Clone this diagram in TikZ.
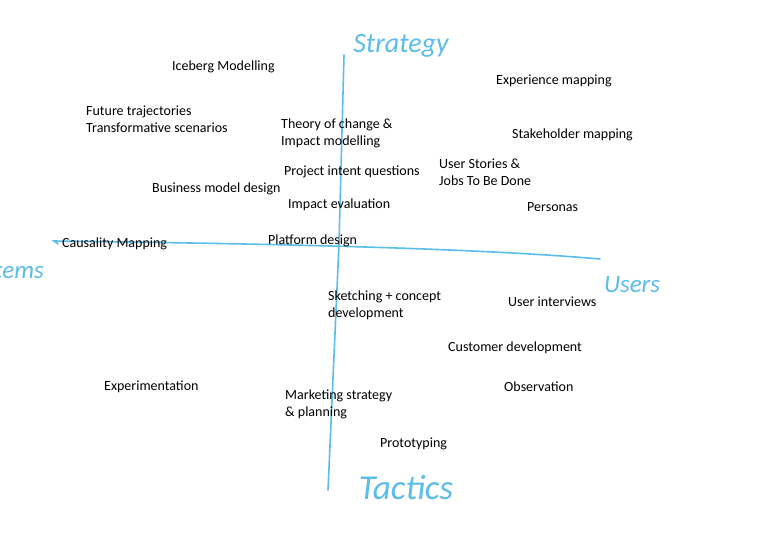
\documentclass[tikz,border=0pt]{standalone}
\usepackage{fontspec}
\setmainfont{Carlito}
\usepackage{tikz}
\usetikzlibrary{positioning, calc}
\definecolor{penblue}{RGB}{92,188,234}

\begin{document}
\begin{tikzpicture}[x=1pt, y=-1pt,
    method/.style = {anchor=west, align=left, inner sep=0pt, font=\fontsize{14}{17}\selectfont},
    handlabel/.style = {text=penblue, inner sep=0pt, font=\fontsize{28}{28}\selectfont\itshape},
    axis/.style = {draw=penblue, line width=1.6pt, line cap=round}
]
\useasboundingbox[fill=white] (0,0) rectangle (768,553);

% axis ends
\coordinate (top) at (344,55);
\coordinate (mid) at (339,244);
\coordinate (bottom) at (328,490);
\coordinate (left) at (54,241);
\coordinate (right) at (600,259);

\draw [axis] (top) -- (mid) -- (bottom);
\draw [axis] (left) ++(4,3) -- (left) .. controls (200,243) and (450,246) .. (right);

% quadrant labels
\node (strategy) [handlabel] at (401,46) {Strategy};
\node (users) [handlabel, font=\fontsize{25}{25}\selectfont\itshape] at (632,285) {Users};
\node (tactics) [handlabel, font=\fontsize{35}{35}\selectfont\itshape] at (406,488) {Tactics};
\node (systems) [handlabel, font=\fontsize{25}{25}\selectfont\itshape, anchor=east] at (44,272) {Systems};

% methods
\node (iceberg) [method] at (172,67) {Iceberg Modelling};
\node (future) [method] at (86,119) {Future trajectories\\Transformative scenarios};
\node (theory) [method] at (281,133) {Theory of change \&\\Impact modelling};
\node (experience) [method] at (496,81) {Experience mapping};
\node (stakeholder) [method] at (512,135) {Stakeholder mapping};
\node (intent) [method] at (284,172) {Project intent questions};
\node (stories) [method] at (439,172) {User Stories \&\\Jobs To Be Done};
\node (business) [method] at (152,189) {Business model design};
\node (evaluation) [method] at (288,205) {Impact evaluation};
\node (personas) [method] at (527,207) {Personas};
\node (causality) [method] at (62,244) {Causality Mapping};
\node (platform) [method] at (268,241) {Platform design};
\node (sketching) [method] at (328,305) {Sketching + concept\\development};
\node (interviews) [method] at (508,302) {User interviews};
\node (customer) [method] at (448,348) {Customer development};
\node (experiment) [method] at (104,387) {Experimentation};
\node (observation) [method] at (504,387) {Observation};
\node (marketing) [method] at (285,404) {Marketing strategy\\\& planning};
\node (prototyping) [method] at (380,444) {Prototyping};

\end{tikzpicture}
\end{document}
